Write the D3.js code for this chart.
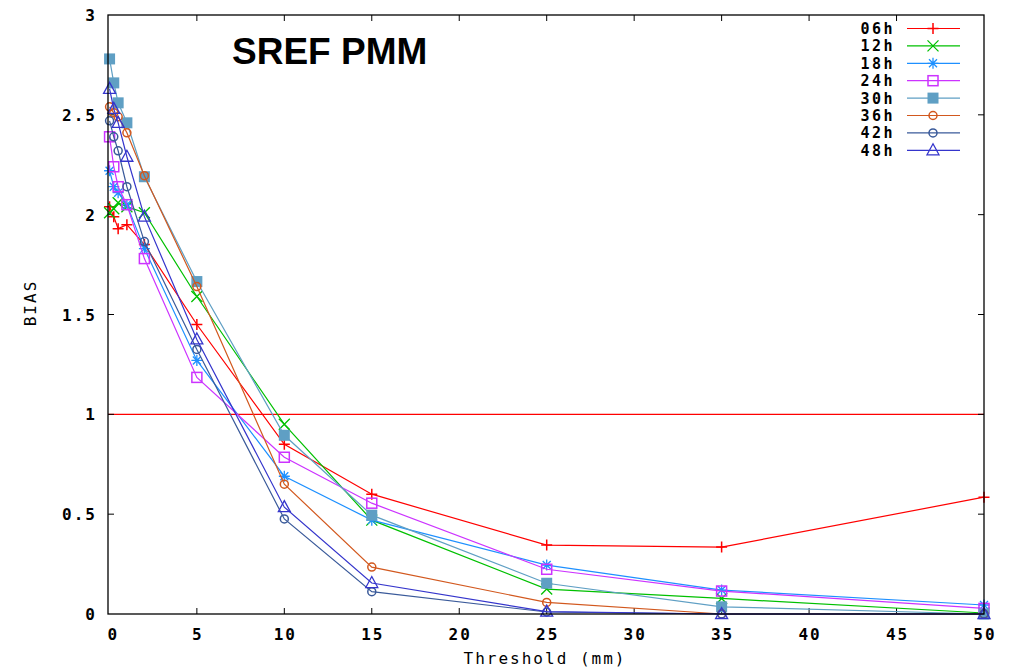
<!DOCTYPE html>
<html>
<head>
<meta charset="utf-8">
<script src="https://cdn.jsdelivr.net/npm/d3@7"></script>
<style>
  body { margin: 0; background: #fff; }
  svg text { font-family: "DejaVu Sans Mono", monospace; fill: #000; }
</style>
</head>
<body>
<div id="chart"></div>
<script>
// Data
var thresholds = [ 0.01, 0.25, 0.5, 1, 2, 5, 10, 15, 25, 35, 50 ];
var seriesNames = [ "06h", "12h", "18h", "24h", "30h", "36h", "42h", "48h" ];
var bias06 = [ 2.04, 1.99, 1.93, 1.95, 1.85, 1.45, 0.85, 0.60, 0.345, 0.335, 0.585 ];
var bias12 = [ 2.01, 2.03, 2.06, 2.04, 2.01, 1.59, 0.95, 0.47, 0.125, 0.078, 0.005 ];
var bias18 = [ 2.22, 2.14, 2.11, 2.05, 1.83, 1.27, 0.69, 0.47, 0.245, 0.12, 0.045 ];
var bias24 = [ 2.39, 2.24, 2.14, 2.05, 1.78, 1.185, 0.785, 0.555, 0.224, 0.115, 0.028 ];
var bias30 = [ 2.78, 2.66, 2.56, 2.46, 2.19, 1.665, 0.895, 0.495, 0.154, 0.036, 0.0 ];
var bias36 = [ 2.54, 2.51, 2.49, 2.41, 2.195, 1.64, 0.65, 0.235, 0.058, 0.0, 0.0 ];
var bias42 = [ 2.47, 2.39, 2.32, 2.14, 1.865, 1.325, 0.476, 0.112, 0.01, 0.0, 0.0 ];
var bias48 = [ 2.63, 2.53, 2.46, 2.29, 1.99, 1.375, 0.535, 0.155, 0.012, 0.0, 0.0 ];
var allBias = [ bias06, bias12, bias18, bias24, bias30, bias36, bias42, bias48 ];
var xTicks = [ 0, 5, 10, 15, 20, 25, 30, 35, 40, 45, 50 ];
var yTicks = [ 0, 0.5, 1, 1.5, 2, 2.5, 3 ];

var colors  = [ "#ff0000", "#00c000", "#1e90ff", "#cc33ff", "#5f9fc4", "#d2581e", "#3a5a9a", "#3535cc" ];
var symbols = [ "plus", "cross", "star", "square", "fsquare", "circle", "circle", "triangle" ];

var chart_width  = 1022;
var chart_height = 670;
var plotLeft = 108, plotRight = 984, plotTop = 15, plotBottom = 614;

var x = d3.scaleLinear().domain([ -0.08, 50 ]).range([ plotLeft, plotRight ]);
var y = d3.scaleLinear().domain([ 0, 3 ]).range([ plotBottom, plotTop ]);

var svg = d3.select("#chart")
    .append("svg")
    .attr("width", chart_width)
    .attr("height", chart_height);

// Reference line at bias = 1
svg.append("line")
    .attr("x1", plotLeft).attr("x2", plotRight)
    .attr("y1", y(1)).attr("y2", y(1))
    .attr("stroke", "#ff0000").attr("stroke-width", 1.2);

// Ticks (inward, both sides)
xTicks.forEach(function(t){
    if (t === 0 || t === 50) return;
    svg.append("line").attr("x1", x(t)).attr("x2", x(t)).attr("y1", plotBottom).attr("y2", plotBottom - 6)
        .attr("stroke", "#000");
    svg.append("line").attr("x1", x(t)).attr("x2", x(t)).attr("y1", plotTop).attr("y2", plotTop + 6)
        .attr("stroke", "#000");
});
yTicks.forEach(function(t){
    if (t === 0 || t === 3) return;
    svg.append("line").attr("x1", plotLeft).attr("x2", plotLeft + 6).attr("y1", y(t)).attr("y2", y(t))
        .attr("stroke", "#000");
    svg.append("line").attr("x1", plotRight).attr("x2", plotRight - 6).attr("y1", y(t)).attr("y2", y(t))
        .attr("stroke", "#000");
});

// Tick labels
svg.selectAll("text.xt")
    .data(xTicks)
    .enter()
    .append("text")
    .attr("class", "xt")
    .attr("x", function(d){ return x(d) + (d === 0 ? 4 : 1); })
    .attr("y", 640)
    .attr("text-anchor", "middle")
    .style("font-size", "16px")
    .style("font-weight", "bold")
    .style("letter-spacing", "2px")
    .text(function(d){ return d; });

svg.selectAll("text.yt")
    .data(yTicks)
    .enter()
    .append("text")
    .attr("class", "yt")
    .attr("x", 97)
    .attr("y", function(d){ return y(d) + 6; })
    .attr("text-anchor", "end")
    .style("font-size", "16px")
    .style("font-weight", "bold")
    .style("letter-spacing", "2px")
    .text(function(d){ return d; });

// Axis titles
svg.append("text")
    .attr("x", 545).attr("y", 664)
    .attr("text-anchor", "middle")
    .style("font-size", "16px")
    .style("letter-spacing", "2px")
    .text("Threshold (mm)");

svg.append("text")
    .attr("transform", "translate(36,303) rotate(-90)")
    .attr("text-anchor", "middle")
    .style("font-size", "16px")
    .style("letter-spacing", "2px")
    .text("BIAS");

// Title
svg.append("text")
    .attr("x", 232).attr("y", 64)
    .style("font-family", "'Liberation Sans', Arial, sans-serif")
    .style("font-weight", "bold")
    .style("font-size", "37px")
    .text("SREF PMM");

// Marker drawing
function marker(g, type, cx, cy, color) {
    var s = 5.5;
    if (type === "plus") {
        g.append("path").attr("d", "M" + (cx - s) + "," + cy + "H" + (cx + s) + "M" + cx + "," + (cy - s) + "V" + (cy + s))
            .attr("stroke", color).attr("stroke-width", 1.5).attr("fill", "none");
    } else if (type === "cross") {
        g.append("path").attr("d", "M" + (cx - s) + "," + (cy - s) + "L" + (cx + s) + "," + (cy + s) + "M" + (cx - s) + "," + (cy + s) + "L" + (cx + s) + "," + (cy - s))
            .attr("stroke", color).attr("stroke-width", 1.3).attr("fill", "none");
    } else if (type === "star") {
        g.append("path").attr("d", "M" + (cx - s) + "," + cy + "H" + (cx + s) + "M" + cx + "," + (cy - s) + "V" + (cy + s) +
            "M" + (cx - 4) + "," + (cy - 4) + "L" + (cx + 4) + "," + (cy + 4) + "M" + (cx - 4) + "," + (cy + 4) + "L" + (cx + 4) + "," + (cy - 4))
            .attr("stroke", color).attr("stroke-width", 1.3).attr("fill", "none");
    } else if (type === "square") {
        g.append("rect").attr("x", cx - 5).attr("y", cy - 5).attr("width", 10).attr("height", 10)
            .attr("stroke", color).attr("stroke-width", 1.5).attr("fill", "none");
    } else if (type === "fsquare") {
        g.append("rect").attr("x", cx - 5.5).attr("y", cy - 5.5).attr("width", 11).attr("height", 11)
            .attr("fill", color);
    } else if (type === "circle") {
        g.append("circle").attr("cx", cx).attr("cy", cy).attr("r", 4)
            .attr("stroke", color).attr("stroke-width", 1.5).attr("fill", "none");
    } else if (type === "triangle") {
        g.append("path").attr("d", "M" + cx + "," + (cy - 6.5) + "L" + (cx + 6) + "," + (cy + 4.5) + "L" + (cx - 6) + "," + (cy + 4.5) + "Z")
            .attr("stroke", color).attr("stroke-width", 1.3).attr("fill", "none");
    }
}

// Series lines and points
var line = d3.line()
    .x(function(d){ return x(d[0]); })
    .y(function(d){ return y(d[1]); });

allBias.forEach(function(vals, i){
    var pts = thresholds.map(function(t, j){ return [ t, vals[j] ]; });
    var g = svg.append("g");
    g.append("path")
        .attr("d", line(pts))
        .attr("fill", "none")
        .attr("stroke", colors[i])
        .attr("stroke-width", 1.2);
    pts.forEach(function(p){
        marker(g, symbols[i], x(p[0]), y(p[1]), colors[i]);
    });
});

// Legend
seriesNames.forEach(function(name, i){
    var ly = 28.5 + i * 17.4;
    svg.append("text")
        .attr("x", 895).attr("y", ly + 5.5)
        .attr("text-anchor", "end")
        .style("font-size", "15px")
        .style("font-weight", "bold")
        .style("letter-spacing", "2.5px")
        .text(name);
    svg.append("line")
        .attr("x1", 907).attr("x2", 960).attr("y1", ly).attr("y2", ly)
        .attr("stroke", colors[i]).attr("stroke-width", 1.2);
    marker(svg, symbols[i], 933, ly, colors[i]);
});

// Frame
svg.append("rect")
    .attr("x", plotLeft).attr("y", plotTop)
    .attr("width", plotRight - plotLeft).attr("height", plotBottom - plotTop)
    .attr("fill", "none")
    .attr("stroke", "#000")
    .attr("stroke-width", 1.3);
</script>
</body>
</html>
